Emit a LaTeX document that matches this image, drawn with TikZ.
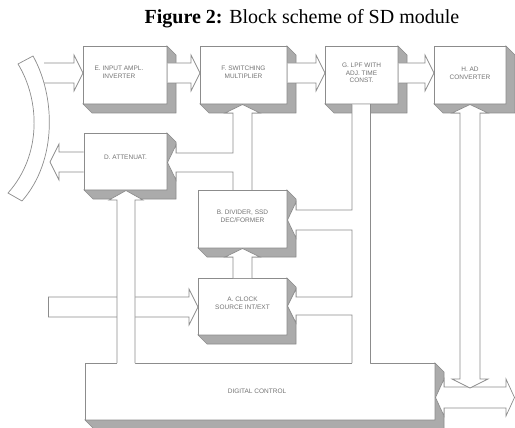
\documentclass[tikz,border=0pt]{standalone}
\usepackage{fontspec}
\setmainfont{Liberation Serif}
\newfontfamily\labfont{Liberation Sans}
\usetikzlibrary{calc}
\colorlet{lc}{black!45}
\colorlet{sc}{black!33}
\newcommand\ext[1]{\filldraw[fill=sc, draw=lc] (#1.north east) -- ++(9,9) -- ($(#1.south east)+(9,9)$) -- ($(#1.south west)+(9,9)$) -- (#1.south west) -- (#1.south east) -- cycle;}
% right-pointing fat arrow, open at start: x1, xtip, yc, hw
\newcommand\arrR[4]{%
\fill[white] (#1,{#3-#4}) -- ({#2-9},{#3-#4}) -- ({#2-9},{#3-#4-8}) -- (#2,#3) -- ({#2-9},{#3+#4+8}) -- ({#2-9},{#3+#4}) -- (#1,{#3+#4}) -- cycle;
\draw[lc] (#1,{#3-#4}) -- ({#2-9},{#3-#4}) -- ({#2-9},{#3-#4-8}) -- (#2,#3) -- ({#2-9},{#3+#4+8}) -- ({#2-9},{#3+#4}) -- (#1,{#3+#4});}
\newcommand\arrL[4]{%
\fill[white] (#1,{#3-#4}) -- ({#2+9},{#3-#4}) -- ({#2+9},{#3-#4-8}) -- (#2,#3) -- ({#2+9},{#3+#4+8}) -- ({#2+9},{#3+#4}) -- (#1,{#3+#4}) -- cycle;
\draw[lc] (#1,{#3-#4}) -- ({#2+9},{#3-#4}) -- ({#2+9},{#3-#4-8}) -- (#2,#3) -- ({#2+9},{#3+#4+8}) -- ({#2+9},{#3+#4}) -- (#1,{#3+#4});}
\begin{document}
\begin{tikzpicture}[x=1pt,y=-1pt, line width=0.7pt, line join=miter,
  blk/.style={draw=lc, fill=white, inner sep=0pt, outer sep=0pt, anchor=north west},
  lbl/.style={font=\labfont\fontsize{6.5}{7.6}\selectfont, text=black!55, align=center, inner sep=0pt}]
\useasboundingbox (0,0) rectangle (515,428);
\node[font=\fontsize{20}{23}\selectfont, anchor=base] (title) at (302,24) {\textbf{Figure 2:} Block scheme of SD module};

% blocks
\node[blk, minimum width=84pt, minimum height=58pt] (E) at (83,46) {}; \ext{E}
\node[blk, minimum width=87pt, minimum height=58pt] (F) at (200,46) {}; \ext{F}
\node[blk, minimum width=73pt, minimum height=58pt] (G) at (325,46) {}; \ext{G}
\node[blk, minimum width=72pt, minimum height=58pt] (H) at (434,46) {}; \ext{H}
\node[blk, minimum width=83pt, minimum height=57pt] (D) at (84,133) {}; \ext{D}
\node[blk, minimum width=89pt, minimum height=58pt] (B) at (198,190) {}; \ext{B}
\node[blk, minimum width=89pt, minimum height=57pt] (A) at (198,278) {}; \ext{A}
\node[blk, minimum width=350pt, minimum height=57pt] (DC) at (85,363) {}; \ext{DC}

% labels
\node[lbl] (Et) at ($(E.center)+(-6,-3)$) {E. INPUT AMPL.\\INVERTER};
\node[lbl] (Ft) at ($(F.center)+(0,-3)$) {F. SWITCHING\\MULTIPLIER};
\node[lbl] (Gt) at ($(G.center)+(0,-2)$) {G. LPF WITH\\ADJ. TIME\\CONST.};
\node[lbl] (Ht) at ($(H.center)+(0,-2)$) {H. AD\\CONVERTER};
\node[lbl] (Dt) at ($(D.center)+(0,-4)$) {D. ATTENUAT.};
\node[lbl] (Bt) at ($(B.center)+(0,-3)$) {B. DIVIDER, SSD\\DEC/FORMER};
\node[lbl] (At) at ($(A.center)+(0,-3)$) {A. CLOCK\\SOURCE INT/EXT};
\node[lbl] (DCt) at ($(DC.center)+(-3,0)$) {DIGITAL CONTROL};

% top row arrows
\arrR{44}{83}{73}{10}
\arrR{167.5}{200}{73}{10}
\arrR{287.5}{325}{73}{10}
\arrR{398.5}{434}{73}{10}

% antenna arc
\filldraw[fill=white, draw=lc] (33,56) .. controls (55,95) and (58,160) .. (22,201) -- (8,193) .. controls (42,155) and (40,100) .. (18,64) -- cycle;

% D to arc
\arrL{83.5}{50}{162}{10}

% clock input
\arrR{48}{198}{307}{10}
\draw[lc] (48,297) -- (48,317);

% F / B / D connector
\fill[white] (242.5,104.5) -- (260,113) -- (252,113) -- (252,190) -- (233,190) -- (233,172) -- (176,172) -- (176,180) -- (167.5,162.5) -- (176,145) -- (176,153) -- (233,153) -- (233,113) -- (225,113) -- cycle;
\draw[lc] (252,190) -- (252,113) -- (260,113) -- (242.5,104.5) -- (225,113) -- (233,113) -- (233,153) -- (176,153) -- (176,145) -- (167.5,162.5) -- (176,180) -- (176,172) -- (233,172) -- (233,190);

% A to B
\fill[white] (233,278) -- (233,257) -- (225,257) -- (242.5,248.5) -- (260,257) -- (252,257) -- (252,278) -- cycle;
\draw[lc] (233,278) -- (233,257) -- (225,257) -- (242.5,248.5) -- (260,257) -- (252,257) -- (252,278);

% G bus
\fill[white] (352,104.4) -- (352,210) -- (296,210) -- (296,202) -- (287.5,220) -- (296,238) -- (296,230) -- (352,230) -- (352,297) -- (296,297) -- (296,289) -- (287.5,306) -- (296,323) -- (296,315) -- (352,315) -- (352,364) -- (370,364) -- (370,104.4) -- cycle;
\draw[lc] (352,104.4) -- (352,210) -- (296,210) -- (296,202) -- (287.5,220) -- (296,238) -- (296,230) -- (352,230) -- (352,297) -- (296,297) -- (296,289) -- (287.5,306) -- (296,323) -- (296,315) -- (352,315) -- (352,363);
\draw[lc] (370,104.4) -- (370,363);

% DC to D
\fill[white] (117,364) -- (117,200) -- (109,200) -- (126,190.5) -- (143,200) -- (135,200) -- (135,364) -- cycle;
\draw[lc] (117,363) -- (117,200) -- (109,200) -- (126,190.5) -- (143,200) -- (135,200) -- (135,363);

% bottom right bus
\filldraw[fill=white, draw=lc] (435.5,397.5) -- (444,379) -- (444,387) -- (506,387) -- (506,379) -- (514.5,397.5) -- (506,416) -- (506,408) -- (444,408) -- (444,416) -- cycle;

% H vertical
\filldraw[fill=white, draw=lc] (470,104.5) -- (488,113) -- (480,113) -- (480,379) -- (488,379) -- (470,388) -- (452,379) -- (460,379) -- (460,113) -- (452,113) -- cycle;
\end{tikzpicture}
\end{document}
